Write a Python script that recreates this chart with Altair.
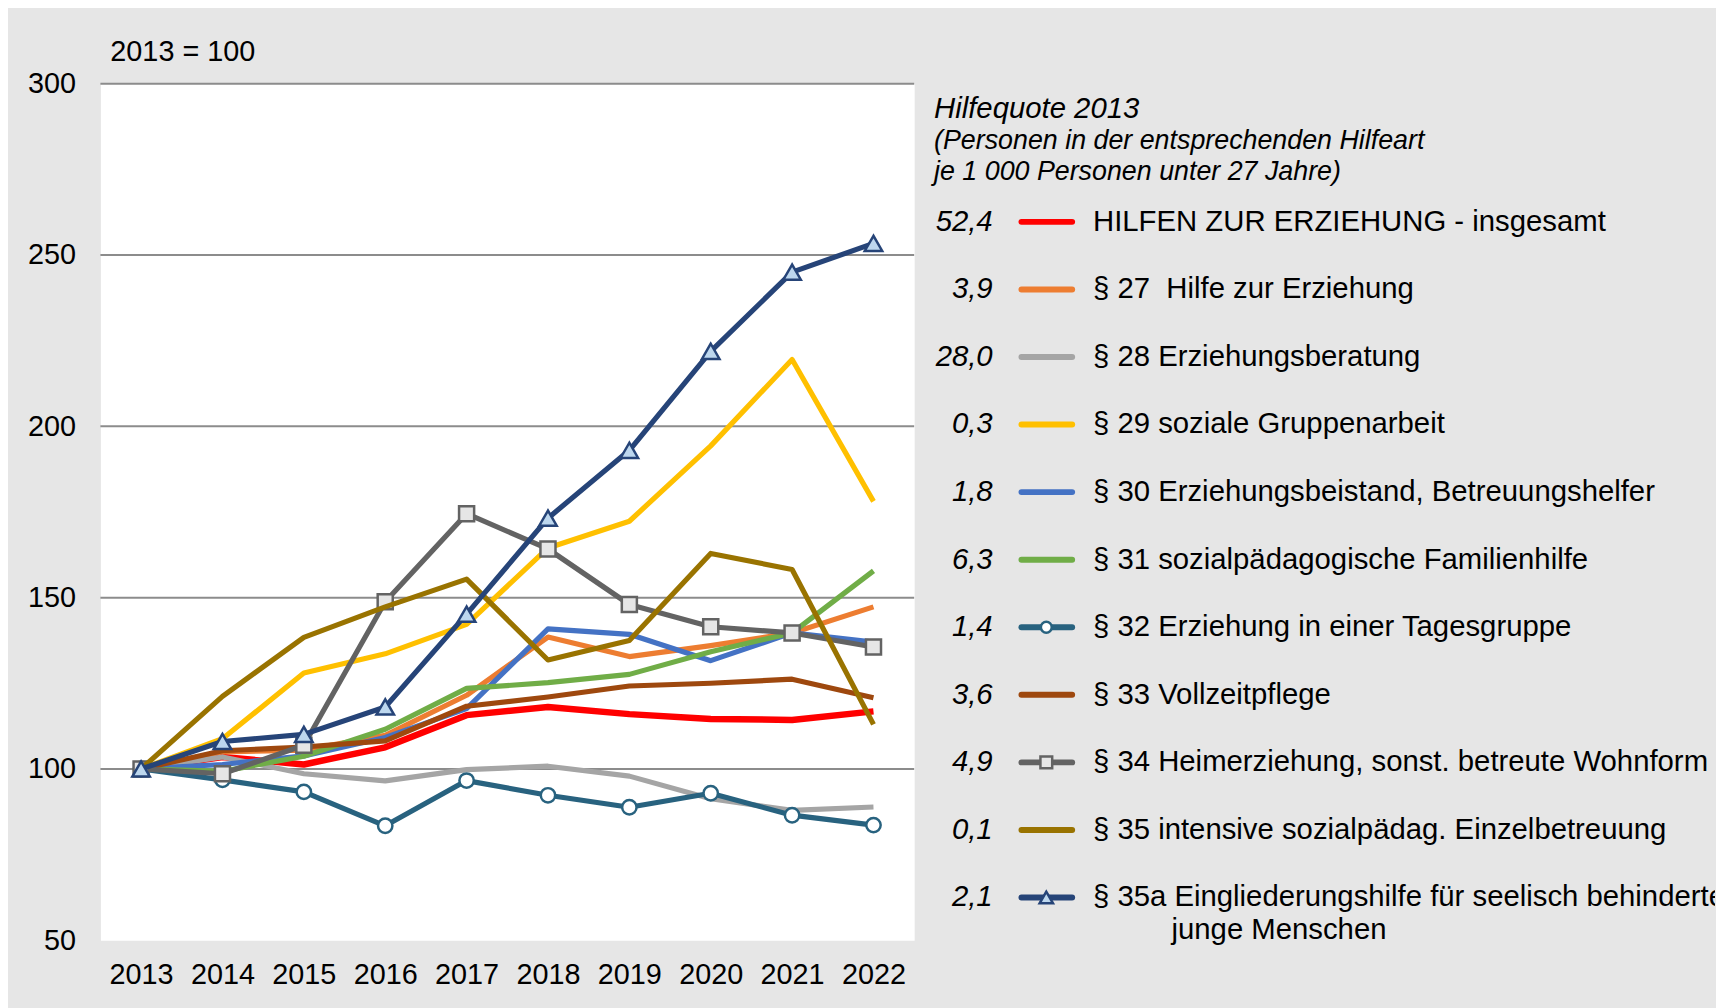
import altair as alt
import pandas as pd

FONT = "Liberation Sans, Arial, sans-serif"

years = [2013, 2014, 2015, 2016, 2017, 2018, 2019, 2020, 2021, 2022]

series = [
    "HILFEN ZUR ERZIEHUNG - insgesamt",
    "§ 27\u00a0 Hilfe zur Erziehung",
    "§ 28 Erziehungsberatung",
    "§ 29 soziale Gruppenarbeit",
    "§ 30 Erziehungsbeistand, Betreuungshelfer",
    "§ 31 sozialpädagogische Familienhilfe",
    "§ 32 Erziehung in einer Tagesgruppe",
    "§ 33 Vollzeitpflege",
    "§ 34 Heimerziehung, sonst. betreute Wohnform",
    "§ 35 intensive sozialpädag. Einzelbetreuung",
    "§ 35a Eingliederungshilfe für seelisch behinderte",
]
second_line = {"§ 35a Eingliederungshilfe für seelisch behinderte": "junge Menschen"}

quote_2013 = ["52,4", "3,9", "28,0", "0,3", "1,8", "6,3", "1,4", "3,6", "4,9", "0,1", "2,1"]

colors = ["#FF0000", "#ED7D31", "#A5A5A5", "#FFC000", "#4472C4", "#70AD47",
          "#28627F", "#9E480E", "#636363", "#997300", "#264478"]
widths = [6.5, 5.2, 5.2, 5.2, 5.2, 5.2, 5.2, 5.2, 5.2, 5.2, 5.2]

v_total = [100, 103.5, 101.3, 106.3, 115.7, 118.1, 116.0, 114.6, 114.3, 116.8]
v_27 = [100, 105.0, 105.5, 109.8, 121.5, 138.5, 132.8, 136.0, 139.7, 147.3]
v_28 = [100, 103.5, 98.6, 96.5, 99.8, 100.8, 97.9, 91.3, 87.9, 88.9]
v_29 = [100, 108.8, 128.0, 133.6, 142.2, 164.5, 172.3, 194.3, 219.5, 178.1]
v_30 = [100, 101.3, 103.8, 109.2, 117.6, 140.9, 139.3, 131.6, 139.7, 137.0]
v_31 = [100, 99.3, 103.7, 111.6, 123.5, 125.2, 127.6, 134.2, 139.7, 157.8]
v_32 = [100, 96.8, 93.3, 83.4, 96.6, 92.3, 88.8, 92.9, 86.5, 83.6]
v_33 = [100, 105.3, 106.4, 108.2, 118.3, 121.0, 124.2, 125.0, 126.2, 120.8]
v_34 = [100, 98.6, 106.9, 148.8, 174.5, 164.2, 148.0, 141.5, 139.7, 135.6]
v_35 = [100, 121.2, 138.4, 147.3, 155.4, 131.8, 137.5, 162.9, 158.2, 113.0]
v_35a = [100, 108.0, 110.1, 118.1, 145.2, 173.2, 193.0, 221.9, 245.0, 253.4]

all_values = [v_total, v_27, v_28, v_29, v_30, v_31, v_32, v_33, v_34, v_35, v_35a]

y_ticks = [50, 100, 150, 200, 250, 300]
grid_values = [100, 150, 200, 250, 300]

rows = []
for s, vals in zip(series, all_values):
    for yr, v in zip(years, vals):
        rows.append({"series": s, "year": yr, "value": v})
df = pd.DataFrame(rows)

color_scale = alt.Scale(domain=series, range=colors)

x_enc = alt.X("year:O", scale=alt.Scale(type="point", padding=0.5),
              axis=alt.Axis(title=None, labelAngle=0, tickSize=0, domain=False, grid=False,
                            labelPadding=21, labelFontSize=29, labelFont=FONT, labelColor="#000000"))
y_scale = alt.Scale(domain=[50, 300], nice=False, zero=False)
y_enc = alt.Y("value:Q", scale=y_scale,
              axis=alt.Axis(title=None, values=y_ticks, tickSize=0, domain=False, grid=False,
                            labelPadding=25, labelFontSize=29, labelFont=FONT, labelColor="#000000"))

grid = alt.Chart(pd.DataFrame({"value": grid_values})).mark_rule(
    color="#8C8C8C", strokeWidth=2
).encode(y=y_enc)

line_layers = []
for s, w in zip(series, widths):
    line_layers.append(
        alt.Chart(df[df["series"] == s]).mark_line(strokeJoin="round", strokeWidth=w).encode(
            x=x_enc,
            y=y_enc,
            color=alt.Color("series:N", scale=color_scale, legend=None),
        )
    )

def marker_layer(name, shape, fill, stroke, size):
    return alt.Chart(df[df["series"] == name]).mark_point(
        shape=shape, filled=True, fill=fill, stroke=stroke, strokeWidth=2.5, size=size, opacity=1
    ).encode(x=x_enc, y=y_enc)

m32 = marker_layer(series[6], "circle", "#FFFFFF", colors[6], 210)
m34 = marker_layer(series[8], "square", "#E6E6E6", colors[8], 230)
m35a = marker_layer(series[10], "triangle-up", "#BDD7EE", colors[10], 310)

layers = [grid]
for i, lyr in enumerate(line_layers):
    layers.append(lyr)
    if i == 6:
        layers.append(m32)
    if i == 8:
        layers.append(m34)
layers.append(m35a)

main = alt.layer(*layers).properties(
    width=819, height=862,
    view=alt.ViewBackground(fill="#FFFFFF", stroke="transparent"),
    title=alt.TitleParams("2013 = 100", anchor="start", frame="group", dx=10, offset=3,
                          fontSize=29, font=FONT, fontWeight="normal", color="#000000"),
)

# ---- legend panel ----
leg_df = pd.DataFrame({"series": series, "quote": quote_2013})
leg_df["line2"] = [second_line.get(s, "") for s in series]
leg_y = alt.Y("series:N", scale=alt.Scale(type="point", domain=series, range=[139, 819], padding=0),
              axis=None)

head = pd.DataFrame({"t": ["Hilfequote 2013"]})
sub1 = pd.DataFrame({"t": ["(Personen in der entsprechenden Hilfeart"]})
sub2 = pd.DataFrame({"t": ["je 1 000 Personen unter 27 Jahre)"]})

LX = 17
h1 = alt.Chart(head).mark_text(align="left", baseline="middle", font=FONT, fontSize=29.5,
                               fontStyle="italic", color="#000000").encode(
    x=alt.value(LX), y=alt.value(25), text="t:N")
h2 = alt.Chart(sub1).mark_text(align="left", baseline="middle", font=FONT, fontSize=27,
                               fontStyle="italic", color="#000000").encode(
    x=alt.value(LX), y=alt.value(58), text="t:N")
h3 = alt.Chart(sub2).mark_text(align="left", baseline="middle", font=FONT, fontSize=27,
                               fontStyle="italic", color="#000000").encode(
    x=alt.value(LX), y=alt.value(89), text="t:N")

nums = alt.Chart(leg_df).mark_text(align="right", baseline="middle", font=FONT, fontSize=29.5,
                                   fontStyle="italic", color="#000000").encode(
    x=alt.value(76), y=leg_y, text="quote:N")
swatch = alt.Chart(leg_df).mark_rule(strokeWidth=6, strokeCap="round").encode(
    x=alt.value(105), x2=alt.value(156), y=leg_y,
    color=alt.Color("series:N", scale=color_scale, legend=None))
labels = alt.Chart(leg_df).mark_text(align="left", baseline="middle", font=FONT, fontSize=29.5,
                                     color="#000000", clip=True).encode(
    x=alt.value(177), y=leg_y, text="series:N")
labels2 = alt.Chart(leg_df).mark_text(align="left", baseline="middle", font=FONT, fontSize=29.5,
                                      color="#000000", dy=33).encode(
    x=alt.value(256), y=leg_y, text="line2:N")

def leg_marker(name, shape, fill, stroke, size):
    return alt.Chart(leg_df[leg_df["series"] == name]).mark_point(
        shape=shape, filled=True, fill=fill, stroke=stroke, strokeWidth=2.5, size=size, opacity=1
    ).encode(x=alt.value(130), y=leg_y)

lm32 = leg_marker(series[6], "circle", "#FFFFFF", colors[6], 120)
lm34 = leg_marker(series[8], "square", "#E6E6E6", colors[8], 140)
lm35a = leg_marker(series[10], "triangle-up", "#BDD7EE", colors[10], 180)

legend = alt.layer(h1, h2, h3, nums, swatch, labels, labels2, lm32, lm34, lm35a).properties(
    width=803, height=862,
    view=alt.ViewBackground(fill="transparent", stroke="transparent"),
)

chart = alt.hconcat(main, legend, spacing=3, bounds="flush").properties(
    background="#E6E6E6",
    padding={"left": 19, "top": 26, "right": 0, "bottom": 20},
).configure_view(stroke="transparent")

chart.save("out.html", embed_options={"renderer": "svg", "actions": False})
